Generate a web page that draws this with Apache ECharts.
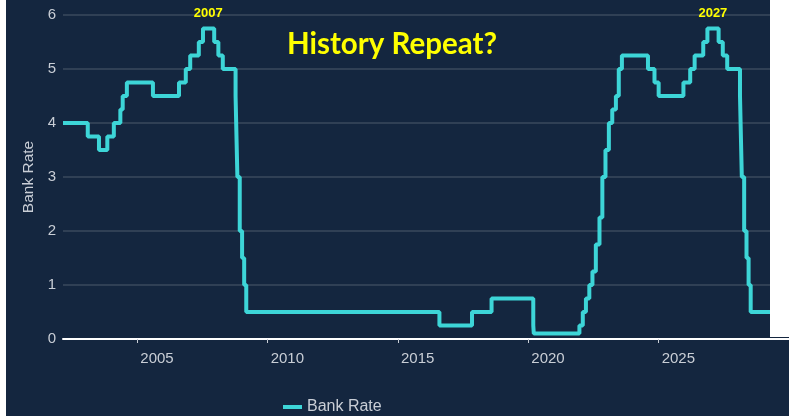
<!DOCTYPE html>
<html>
<head>
<meta charset="utf-8">
<script src="https://cdn.jsdelivr.net/npm/echarts@6/dist/echarts.min.js"></script>
<style>
html,body{margin:0;padding:0;background:#14263f;}
#chart{width:789px;height:416px;}
</style>
</head>
<body>
<div id="chart"></div>
<script>
// Actual Bank Rate history: change dates (decimal years) and new rate
var historyDates = [2002.15, 2003.10, 2003.53, 2003.85, 2004.10, 2004.35, 2004.44, 2004.60, 2005.60, 2006.60, 2006.86, 2007.03, 2007.36, 2007.52, 2007.95, 2008.11, 2008.28, 2008.77, 2008.84, 2008.93, 2009.02, 2009.10, 2009.18, 2016.59, 2017.84, 2018.59, 2020.19, 2020.21, 2021.96, 2022.09, 2022.21, 2022.34, 2022.46, 2022.59, 2022.73, 2022.84, 2022.96, 2023.09, 2023.22, 2023.36, 2023.47, 2023.59, 2024.59, 2024.84];
var historyRates = [4.0, 3.75, 3.5, 3.75, 4.0, 4.25, 4.5, 4.75, 4.5, 4.75, 5.0, 5.25, 5.5, 5.75, 5.5, 5.25, 5.0, 4.5, 3.0, 2.0, 1.5, 1.0, 0.5, 0.25, 0.5, 0.75, 0.25, 0.1, 0.25, 0.5, 0.75, 1.0, 1.25, 1.75, 2.25, 3.0, 3.5, 4.0, 4.25, 4.5, 5.0, 5.25, 5.0, 4.75];
// "History Repeat?" projection (pasted copy of 2005-2009)
var repeatDates = [2025.00, 2025.95, 2026.21, 2026.38, 2026.71, 2026.87, 2027.30, 2027.46, 2027.63, 2028.12, 2028.19, 2028.28, 2028.37, 2028.45, 2028.53, 2029.28];
var repeatRates = [4.5, 4.75, 5.0, 5.25, 5.5, 5.75, 5.5, 5.25, 5.0, 4.5, 3.0, 2.0, 1.5, 1.0, 0.5, 0.5];
var xTickYears = [2005, 2010, 2015, 2020, 2025, 2030];
var xLabelYears = [2005, 2010, 2015, 2020, 2025];
var peakLabels = [{name: '2007', x: 2007.72, y: 5.75}, {name: '2027', x: 2027.08, y: 5.75}];
var seriesName = 'Bank Rate';
var chartTitle = 'History Repeat?';

var data = [];
historyDates.forEach(function (d, i) { data.push([d, historyRates[i]]); });
repeatDates.forEach(function (d, i) { data.push([d, repeatRates[i]]); });

var labelColor = '#c9ced6';
var chart = echarts.init(document.getElementById('chart'), null, {renderer: 'canvas'});
chart.setOption({
  backgroundColor: '#14263f',
  animation: false,
  textStyle: {fontFamily: 'Liberation Sans, Arial, sans-serif'},
  grid: {left: 63, right: 0, top: 15, bottom: 77, outerBoundsMode: 'none'},
  legend: {
    data: [seriesName],
    left: 278, top: 394,
    icon: 'rect', itemWidth: 19, itemHeight: 4,
    textStyle: {color: labelColor, fontSize: 16, fontFamily: 'Liberation Sans, Arial, sans-serif'}
  },
  xAxis: {
    type: 'value', min: 2002.15, max: 2030,
    axisLine: {lineStyle: {color: '#ffffff', width: 2}},
    axisTick: {show: true, length: 4, lineStyle: {color: '#c9ced6', width: 1}, customValues: xTickYears},
    axisLabel: {color: labelColor, fontSize: 15, margin: 12, align: 'left', padding: [0, 0, 0, 3],
      customValues: xLabelYears, formatter: function (v) { return String(v); }},
    splitLine: {show: false}
  },
  yAxis: {
    type: 'value', min: 0, max: 6, interval: 1,
    name: 'Bank Rate', nameLocation: 'middle', nameGap: 20, nameRotate: 90,
    nameTextStyle: {color: labelColor, fontSize: 15.5},
    axisLine: {show: false}, axisTick: {show: false},
    axisLabel: {color: labelColor, fontSize: 15, margin: 7},
    splitLine: {lineStyle: {color: '#3a4a5e', width: 1.5}}
  },
  series: [{
    name: seriesName, type: 'line', step: 'end', data: data,
    showSymbol: false, symbol: 'none',
    lineStyle: {color: '#3dd5d7', width: 4},
    itemStyle: {color: '#3dd5d7'},
    markPoint: {
      symbol: 'circle', symbolSize: 0,
      label: {show: true, position: 'inside', offset: [0, -15], color: '#ffff00', fontWeight: 'bold', fontSize: 13,
        fontFamily: 'Liberation Sans, Arial, sans-serif', formatter: function (p) { return p.name; }},
      data: peakLabels.map(function (p) { return {name: p.name, coord: [p.x, p.y]}; })
    }
  }],
  graphic: [
    {type: 'rect', left: 0, top: 0, shape: {width: 6, height: 416}, style: {fill: '#ffffff'}, z: 100},
    {type: 'rect', left: 770, top: 0, shape: {width: 19, height: 337}, style: {fill: '#ffffff'}, z: 100},
    {type: 'text', x: 392, y: 44, z: 100, style: {text: chartTitle, fill: '#ffff00', font: 'bold 29.5px Lato, sans-serif', textAlign: 'center', textVerticalAlign: 'middle'}}
  ]
});
</script>
</body>
</html>
